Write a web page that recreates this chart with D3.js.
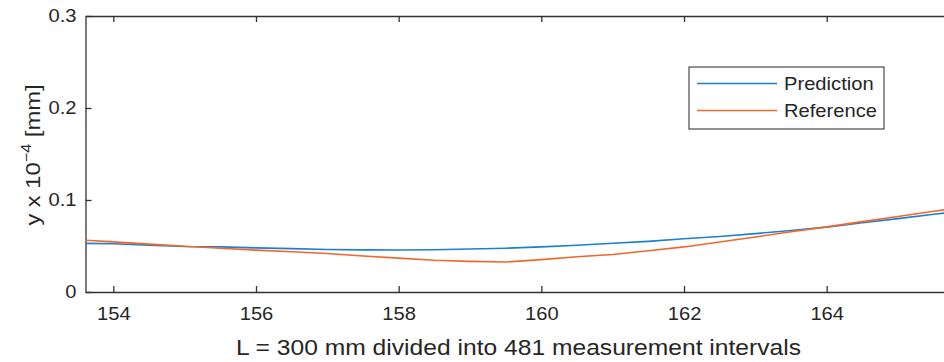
<!DOCTYPE html>
<html>
<head>
<meta charset="utf-8">
<script src="https://cdn.jsdelivr.net/npm/d3@7"></script>
<style>
body { margin: 0; background: #fff; }
text { font-family: "Liberation Sans", Arial, Helvetica, sans-serif; fill: #262626; }
</style>
</head>
<body>
<div id="chart"></div>
<script>
// Data
var xValues = [153.61, 154.0, 154.5, 155.0, 155.5, 156.0, 156.5, 157.0, 157.5, 158.0, 158.5, 159.0, 159.5,
    160.0, 160.5, 161.0, 161.5, 162.0, 162.5, 163.0, 163.5, 164.0, 164.5, 165.0, 165.5, 165.65];
var prediction = [0.0529, 0.0525, 0.0510, 0.0495, 0.0490, 0.0480, 0.0472, 0.0462, 0.0458, 0.0457, 0.0459, 0.0468, 0.0476,
    0.0490, 0.0508, 0.0530, 0.0550, 0.0578, 0.0603, 0.0635, 0.0668, 0.0705, 0.0752, 0.0798, 0.0845, 0.0858];
var reference = [0.0562, 0.0545, 0.0520, 0.0497, 0.0475, 0.0455, 0.0437, 0.0418, 0.0392, 0.0368, 0.0345, 0.0333, 0.0326,
    0.0352, 0.0383, 0.0408, 0.0448, 0.0490, 0.0543, 0.0598, 0.0655, 0.0708, 0.0765, 0.0820, 0.0878, 0.0893];
var seriesNames = ["Prediction", "Reference"];
var seriesColors = ["#1f7fcf", "#f2672e"];
var xTicks = [154, 156, 158, 160, 162, 164];
var yTicks = [0, 0.1, 0.2, 0.3];
var xDomain = [153.61, 165.65];
var yDomain = [0, 0.3];

// Configuring SVG
var svgWidth = 944;
var svgHeight = 362;
var margin = { top: 16, left: 85.5 };
var width = 858.9;
var height = 276;
var textStretch = 1.12; // reference text is a bit wide

var svg = d3.select("#chart")
    .append("svg")
    .attr("width", svgWidth)
    .attr("height", svgHeight);

var chartGroup = svg.append("g")
    .attr("transform", `translate(${margin.left}, ${margin.top})`);

var xScale = d3.scaleLinear().domain(xDomain).range([0, width]);
var yScale = d3.scaleLinear().domain(yDomain).range([height, 0]);

// clip for the lines
chartGroup.append("clipPath")
    .attr("id", "plotClip")
    .append("rect")
    .attr("width", width)
    .attr("height", height);

// axes (MATLAB style: inner ticks, box on top)
var bottomAxis = d3.axisBottom(xScale)
    .tickValues(xTicks)
    .tickFormat(d3.format("d"))
    .tickSizeInner(-6)
    .tickSizeOuter(0)
    .tickPadding(15);
var topAxis = d3.axisTop(xScale)
    .tickValues(xTicks)
    .tickFormat("")
    .tickSizeInner(-6)
    .tickSizeOuter(0);
var leftAxis = d3.axisLeft(yScale)
    .tickValues(yTicks)
    .tickFormat(d => d === 0 ? "0" : d3.format(".1f")(d))
    .tickSizeInner(-6)
    .tickSizeOuter(0)
    .tickPadding(8);

var xAxis = chartGroup.append("g")
    .attr("transform", `translate(0, ${height})`)
    .call(bottomAxis);
var xTop = chartGroup.append("g").call(topAxis);
var yAxis = chartGroup.append("g").call(leftAxis);

[xAxis, xTop, yAxis].forEach(ax => {
    ax.selectAll("path, line")
        .attr("stroke", "#333")
        .attr("stroke-width", 1.3);
    ax.selectAll("text")
        .attr("font-size", "18px")
        .attr("font-family", "Liberation Sans, Arial, sans-serif")
        .attr("fill", "#262626")
        .attr("transform", `scale(${textStretch},1)`);
});

// lines
var lineGen = d3.line()
    .x((d, i) => xScale(xValues[i]))
    .y(d => yScale(d));

var linesGroup = chartGroup.append("g").attr("clip-path", "url(#plotClip)");
[prediction, reference].forEach((series, i) => {
    linesGroup.append("path")
        .datum(series)
        .attr("d", lineGen)
        .attr("fill", "none")
        .attr("stroke", seriesColors[i])
        .attr("stroke-width", 1.6);
});

// x label
svg.append("text")
    .attr("transform", `translate(${margin.left + 433}, 355) scale(${textStretch},1)`)
    .attr("text-anchor", "middle")
    .attr("font-size", "22px")
    .text("L = 300 mm divided into 481 measurement intervals");

// y label
var yLabel = svg.append("text")
    .attr("transform", "translate(40, 155) rotate(-90) scale(1.25,1.1)")
    .attr("text-anchor", "middle")
    .attr("font-size", "19px");
yLabel.append("tspan").text("y x 10");
yLabel.append("tspan")
    .attr("font-size", "13px")
    .attr("dy", "-8")
    .text("\u22124");
yLabel.append("tspan")
    .attr("dy", "8")
    .text(" [mm]");

// legend
var legend = svg.append("g").attr("transform", "translate(689, 67)");
legend.append("rect")
    .attr("width", 195)
    .attr("height", 62)
    .attr("fill", "#fff")
    .attr("stroke", "#262626")
    .attr("stroke-width", 1);
seriesNames.forEach((name, i) => {
    var row = legend.append("g").attr("transform", `translate(0, ${16.5 + i * 27})`);
    row.append("line")
        .attr("x1", 8)
        .attr("x2", 88)
        .attr("stroke", seriesColors[i])
        .attr("stroke-width", 1.6);
    row.append("text")
        .attr("transform", `translate(95, 6.5) scale(${textStretch},1)`)
        .attr("font-size", "18px")
        .text(name);
});
</script>
</body>
</html>
